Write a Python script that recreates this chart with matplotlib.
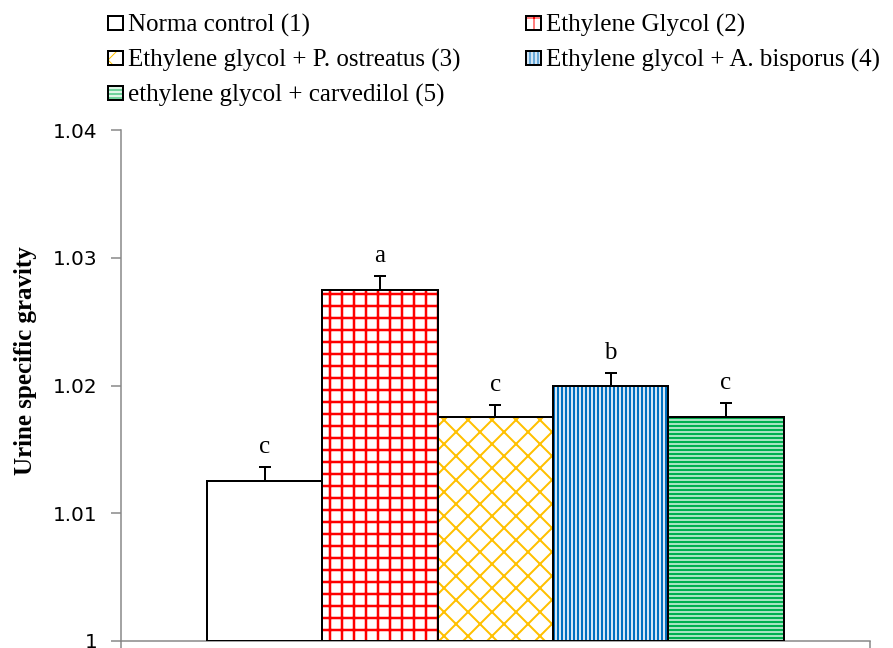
import matplotlib.pyplot as plt
import numpy as np

# Urine specific gravity per treatment group
groups = [
    "Norma control (1)",
    "Ethylene Glycol (2)",
    "Ethylene glycol + P. ostreatus (3)",
    "Ethylene glycol + A. bisporus (4)",
    "ethylene glycol + carvedilol (5)",
]
usg_mean = [1.0125, 1.0275, 1.0175, 1.0200, 1.0175]
usg_err = [0.0011, 0.0011, 0.0010, 0.0010, 0.0011]
sig_letters = ["c", "a", "c", "b", "c"]
yticks = [1.0, 1.01, 1.02, 1.03, 1.04]
ytick_labels = ["1", "1.01", "1.02", "1.03", "1.04"]

# fill styling per group
hatch_colors = ["white", "#FF0000", "#FFC000", "#0070C0", "#00B050"]
face_colors = ["white", "white", "white", "#d4e6f5", "#dff5e7"]
hatches = ["", "+", "x", "|||", "---"]
hatch_widths = [1.0, 2.5, 2.0, 2.0, 2.5]

plt.rcParams["font.family"] = ["Liberation Serif", "DejaVu Serif"]

W, H = 893, 648
fig = plt.figure(figsize=(W / 72, H / 72), dpi=72)
ax = fig.add_axes([120.7 / W, 1 - 641 / H, (870 - 120.7) / W, 511 / H])

base = 1.0
x = np.arange(len(usg_mean))
heights = np.array(usg_mean) - base

handles = []
for i in range(len(usg_mean)):
    with plt.rc_context({"hatch.linewidth": hatch_widths[i]}):
        fill = ax.bar(x[i], heights[i], bottom=base, width=1.0,
                      color=face_colors[i], edgecolor=hatch_colors[i],
                      hatch=hatches[i], linewidth=0, zorder=2)
    outline = ax.bar(x[i], heights[i], bottom=base, width=1.0, fill=False,
                     edgecolor="black", linewidth=2, zorder=3)
    handles.append((fill[0], outline[0]))

ax.errorbar(x, usg_mean, yerr=[np.zeros(len(usg_err)), usg_err], fmt="none",
            ecolor="black", elinewidth=2, capsize=6, capthick=2, zorder=4)

for xi, m, e, lab in zip(x, usg_mean, usg_err, sig_letters):
    ax.annotate(lab, (xi, m + e), xytext=(0, 14), textcoords="offset points",
                ha="center", va="baseline", fontsize=25)

ax.set_xlim(-1.25, 5.25)
ax.set_ylim(1.0, 1.04)
ax.set_yticks(yticks)
ax.set_yticklabels(ytick_labels, fontfamily="DejaVu Sans", fontsize=20)
ax.set_xticks([-1.25, 5.25])
ax.set_xticklabels([])

axis_gray = "#868686"
for side in ["top", "right"]:
    ax.spines[side].set_visible(False)
for side in ["left", "bottom"]:
    ax.spines[side].set_color(axis_gray)
    ax.spines[side].set_linewidth(1.5)
ax.tick_params(axis="y", direction="out", length=10, width=1.5,
               color=axis_gray, pad=13)
ax.tick_params(axis="x", direction="out", length=8, width=1.5,
               color=axis_gray)

ax.set_ylabel("Urine specific gravity", fontsize=25, fontweight="bold",
              va="center")
ax.yaxis.set_label_coords(-0.1277, 0.548)

order = [0, 2, 4, 1, 3]
fig.legend([handles[i] for i in order], [groups[i] for i in order],
           ncol=2, loc="upper left", bbox_to_anchor=(108 / W, 1 - 14 / H),
           frameon=False, fontsize=25, handlelength=0.6, handleheight=0.52,
           handletextpad=0.2, columnspacing=2.6, labelspacing=0.48,
           borderpad=0, borderaxespad=0)

fig.savefig("out.png", dpi=72)
